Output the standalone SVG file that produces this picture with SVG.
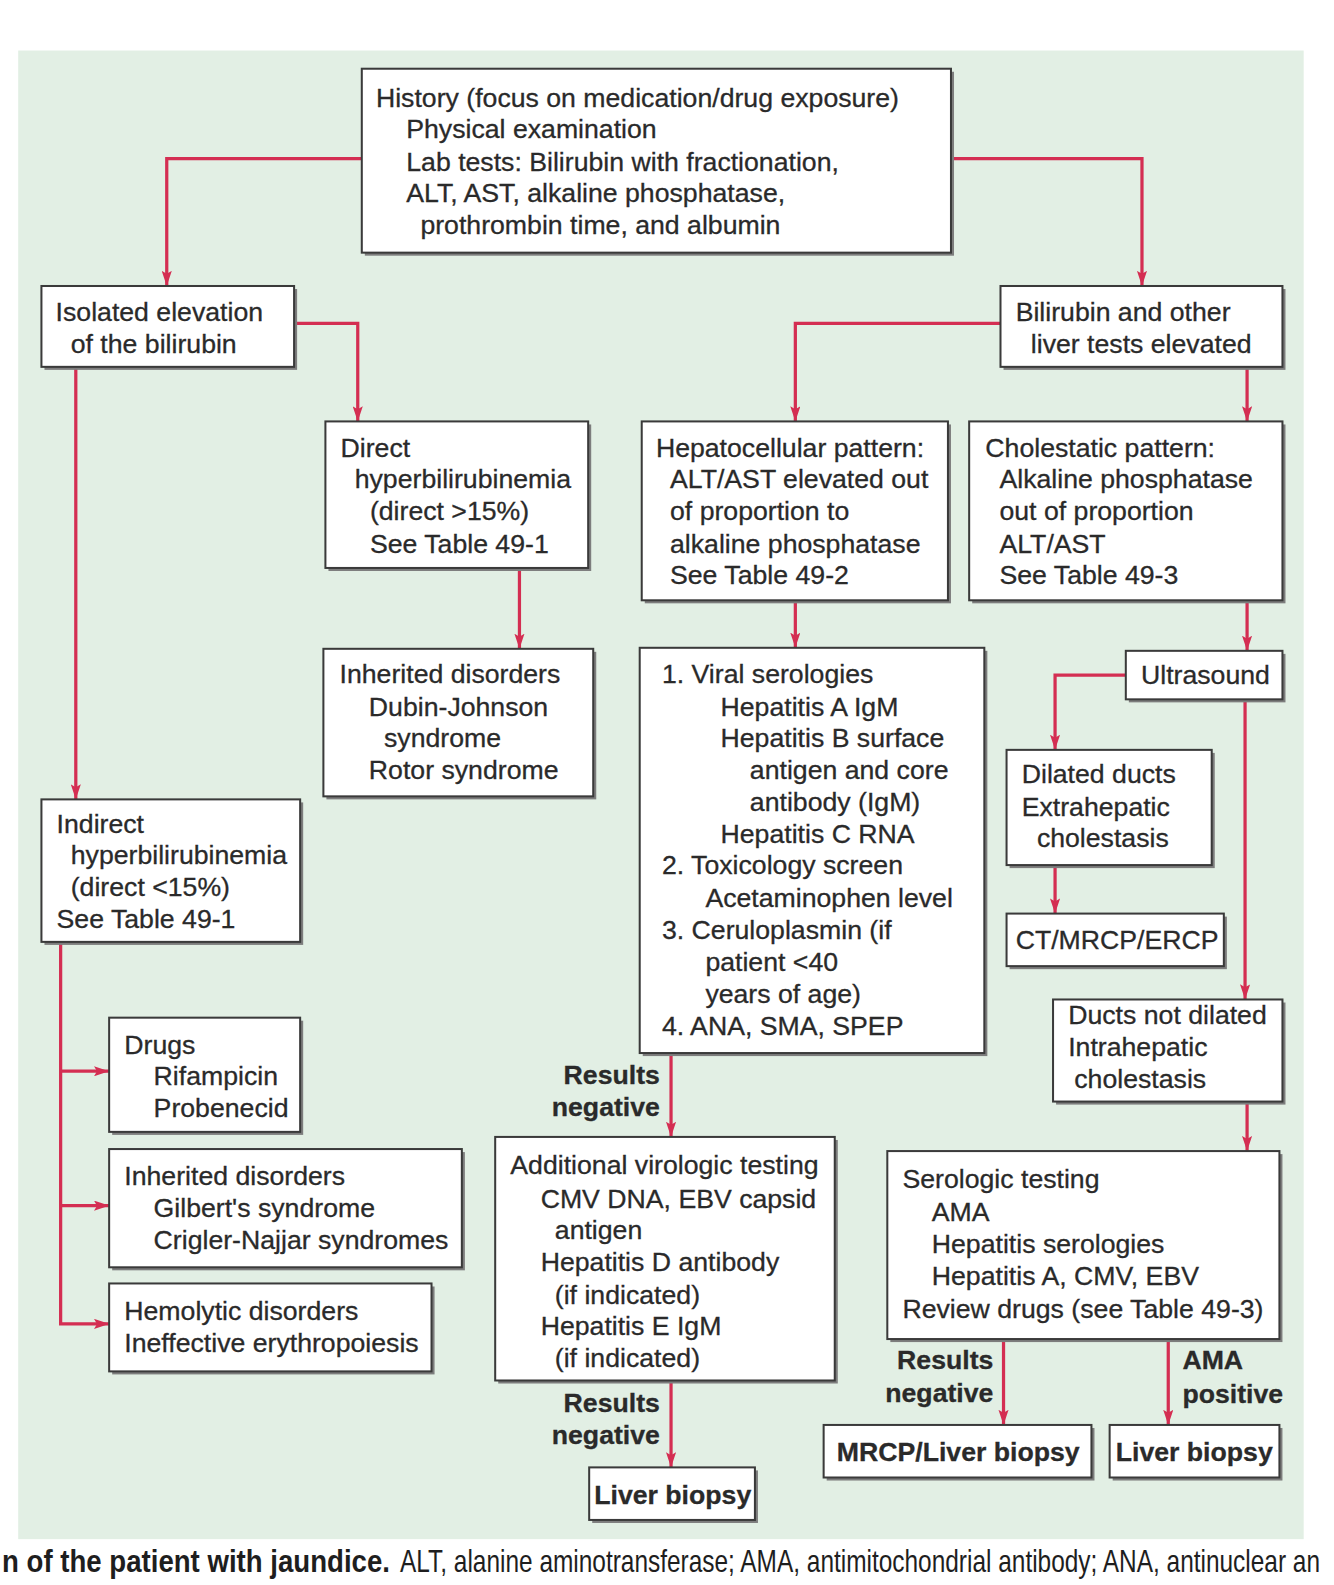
<svg xmlns="http://www.w3.org/2000/svg" width="1334" height="1585" viewBox="0 0 1334 1585">
<style>
.bg{fill:#e2efe4}
.sh{fill:#7d7d7d}
.box{fill:#ffffff;stroke:#3a3a3a;stroke-width:2}
text{font-family:"Liberation Sans",Arial,sans-serif;font-size:26.4px;fill:#2a2a2a;stroke:#2a2a2a;stroke-width:0.3}
.b{font-weight:bold}
.r{text-anchor:end}
.c{fill:none;stroke:#d42e52;stroke-width:3.2}
.cap{font-size:23.5px;fill:#1e1e1e;stroke:none}
</style>
<defs>
<marker id="ah" viewBox="0 0 15 10" refX="15" refY="5" markerWidth="15" markerHeight="10" markerUnits="userSpaceOnUse" orient="auto">
<path d="M0,0 L15,5 L0,10 L3,5 z" fill="#d42e52"/>
</marker>
</defs>
<rect width="1334" height="1585" fill="#ffffff"/>
<g transform="scale(1.0106)">
<rect class="bg" x="18" y="50" width="1272" height="1473"/>

<g id="connectors">
<polyline class="c" points="358,157 165,157 165,283" marker-end="url(#ah)"/>
<polyline class="c" points="941,157 1130,157 1130,283" marker-end="url(#ah)"/>
<polyline class="c" points="291,320 354,320 354,417" marker-end="url(#ah)"/>
<polyline class="c" points="75,363 75,791" marker-end="url(#ah)"/>
<polyline class="c" points="990,320 787,320 787,417" marker-end="url(#ah)"/>
<polyline class="c" points="1234,363 1234,417" marker-end="url(#ah)"/>
<polyline class="c" points="514,562 514,642" marker-end="url(#ah)"/>
<polyline class="c" points="787,594 787,641" marker-end="url(#ah)"/>
<polyline class="c" points="1234,594 1234,644" marker-end="url(#ah)"/>
<polyline class="c" points="1114,668 1044,668 1044,742" marker-end="url(#ah)"/>
<polyline class="c" points="1232,692 1232,989" marker-end="url(#ah)"/>
<polyline class="c" points="1044,856 1044,904" marker-end="url(#ah)"/>
<polyline class="c" points="664,1042 664,1125" marker-end="url(#ah)"/>
<polyline class="c" points="60,932 60,1310 108,1310" marker-end="url(#ah)"/>
<polyline class="c" points="60,1060 108,1060" marker-end="url(#ah)"/>
<polyline class="c" points="60,1193 108,1193" marker-end="url(#ah)"/>
<polyline class="c" points="664,1366 664,1452" marker-end="url(#ah)"/>
<polyline class="c" points="1234,1090 1234,1139" marker-end="url(#ah)"/>
<polyline class="c" points="993,1325 993,1410" marker-end="url(#ah)"/>
<polyline class="c" points="1156,1325 1156,1410" marker-end="url(#ah)"/>
</g>

<g id="history">
<rect class="sh" x="361" y="71" width="583" height="182"/>
<rect class="box" x="358" y="68" width="583" height="182"/>
<text x="372" y="106">History (focus on medication/drug exposure)</text>
<text x="402" y="137">Physical examination</text>
<text x="402" y="169">Lab tests: Bilirubin with fractionation,</text>
<text x="402" y="200">ALT, AST, alkaline phosphatase,</text>
<text x="416" y="232">prothrombin time, and albumin</text>
</g>

<g id="isolated">
<rect class="sh" x="44" y="286" width="250" height="80"/>
<rect class="box" x="41" y="283" width="250" height="80"/>
<text x="55" y="318">Isolated elevation</text>
<text x="70" y="349">of the bilirubin</text>
</g>

<g id="bili-other">
<rect class="sh" x="993" y="286" width="279" height="80"/>
<rect class="box" x="990" y="283" width="279" height="80"/>
<text x="1005" y="318">Bilirubin and other</text>
<text x="1020" y="349">liver tests elevated</text>
</g>

<g id="direct">
<rect class="sh" x="325" y="420" width="260" height="145"/>
<rect class="box" x="322" y="417" width="260" height="145"/>
<text x="337" y="452">Direct</text>
<text x="351" y="483">hyperbilirubinemia</text>
<text x="366" y="515">(direct &gt;15%)</text>
<text x="366" y="547">See Table 49-1</text>
</g>

<g id="hepatocellular">
<rect class="sh" x="638" y="420" width="303" height="177"/>
<rect class="box" x="635" y="417" width="303" height="177"/>
<text x="649" y="452">Hepatocellular pattern:</text>
<text x="663" y="483">ALT/AST elevated out</text>
<text x="663" y="515">of proportion to</text>
<text x="663" y="547">alkaline phosphatase</text>
<text x="663" y="578">See Table 49-2</text>
</g>

<g id="cholestatic">
<rect class="sh" x="962" y="420" width="310" height="177"/>
<rect class="box" x="959" y="417" width="310" height="177"/>
<text x="975" y="452">Cholestatic pattern:</text>
<text x="989" y="483">Alkaline phosphatase</text>
<text x="989" y="515">out of proportion</text>
<text x="989" y="547">ALT/AST</text>
<text x="989" y="578">See Table 49-3</text>
</g>

<g id="inherited-direct">
<rect class="sh" x="323" y="645" width="267" height="146"/>
<rect class="box" x="320" y="642" width="267" height="146"/>
<text x="336" y="676">Inherited disorders</text>
<text x="365" y="708">Dubin-Johnson</text>
<text x="380" y="739">syndrome</text>
<text x="365" y="771">Rotor syndrome</text>
</g>

<g id="viral">
<rect class="sh" x="636" y="644" width="341" height="401"/>
<rect class="box" x="633" y="641" width="341" height="401"/>
<text x="655" y="676">1. Viral serologies</text>
<text x="713" y="708">Hepatitis A IgM</text>
<text x="713" y="739">Hepatitis B surface</text>
<text x="742" y="771">antigen and core</text>
<text x="742" y="802">antibody (IgM)</text>
<text x="713" y="834">Hepatitis C RNA</text>
<text x="655" y="865">2. Toxicology screen</text>
<text x="698" y="897">Acetaminophen level</text>
<text x="655" y="929">3. Ceruloplasmin (if</text>
<text x="698" y="961">patient &lt;40</text>
<text x="698" y="992">years of age)</text>
<text x="655" y="1024">4. ANA, SMA, SPEP</text>
</g>

<g id="ultrasound">
<rect class="sh" x="1117" y="647" width="155" height="48"/>
<rect class="box" x="1114" y="644" width="155" height="48"/>
<text x="1129" y="677">Ultrasound</text>
</g>

<g id="dilated">
<rect class="sh" x="999" y="745" width="203" height="114"/>
<rect class="box" x="996" y="742" width="203" height="114"/>
<text x="1011" y="775">Dilated ducts</text>
<text x="1011" y="807">Extrahepatic</text>
<text x="1026" y="838">cholestasis</text>
</g>

<g id="ct">
<rect class="sh" x="999" y="907" width="215" height="52"/>
<rect class="box" x="996" y="904" width="215" height="52"/>
<text x="1005" y="939">CT/MRCP/ERCP</text>
</g>

<g id="not-dilated">
<rect class="sh" x="1045" y="992" width="227" height="101"/>
<rect class="box" x="1042" y="989" width="227" height="101"/>
<text x="1057" y="1013">Ducts not dilated</text>
<text x="1057" y="1045">Intrahepatic</text>
<text x="1063" y="1077">cholestasis</text>
</g>

<g id="indirect">
<rect class="sh" x="44" y="794" width="256" height="141"/>
<rect class="box" x="41" y="791" width="256" height="141"/>
<text x="56" y="824">Indirect</text>
<text x="70" y="855">hyperbilirubinemia</text>
<text x="70" y="887">(direct &lt;15%)</text>
<text x="56" y="918">See Table 49-1</text>
</g>

<g id="drugs">
<rect class="sh" x="111" y="1010" width="189" height="113"/>
<rect class="box" x="108" y="1007" width="189" height="113"/>
<text x="123" y="1043">Drugs</text>
<text x="152" y="1074">Rifampicin</text>
<text x="152" y="1105">Probenecid</text>
</g>

<g id="inherited-indirect">
<rect class="sh" x="111" y="1140" width="349" height="117"/>
<rect class="box" x="108" y="1137" width="349" height="117"/>
<text x="123" y="1173">Inherited disorders</text>
<text x="152" y="1204">Gilbert's syndrome</text>
<text x="152" y="1236">Crigler-Najjar syndromes</text>
</g>

<g id="hemolytic">
<rect class="sh" x="111" y="1273" width="319" height="87"/>
<rect class="box" x="108" y="1270" width="319" height="87"/>
<text x="123" y="1306">Hemolytic disorders</text>
<text x="123" y="1338">Ineffective erythropoiesis</text>
</g>

<g id="additional">
<rect class="sh" x="493" y="1128" width="336" height="241"/>
<rect class="box" x="490" y="1125" width="336" height="241"/>
<text x="505" y="1162">Additional virologic testing</text>
<text x="535" y="1195">CMV DNA, EBV capsid</text>
<text x="549" y="1226">antigen</text>
<text x="535" y="1258">Hepatitis D antibody</text>
<text x="549" y="1290">(if indicated)</text>
<text x="535" y="1321">Hepatitis E IgM</text>
<text x="549" y="1353">(if indicated)</text>
</g>

<g id="biopsy-center">
<rect class="sh" x="586" y="1455" width="164" height="52"/>
<rect class="box" x="583" y="1452" width="164" height="52"/>
<text class="b" x="588" y="1488">Liver biopsy</text>
</g>

<g id="serologic">
<rect class="sh" x="881" y="1142" width="388" height="186"/>
<rect class="box" x="878" y="1139" width="388" height="186"/>
<text x="893" y="1176">Serologic testing</text>
<text x="922" y="1208">AMA</text>
<text x="922" y="1240">Hepatitis serologies</text>
<text x="922" y="1272">Hepatitis A, CMV, EBV</text>
<text x="893" y="1304">Review drugs (see Table 49-3)</text>
</g>

<g id="mrcp">
<rect class="sh" x="818" y="1413" width="265" height="52"/>
<rect class="box" x="815" y="1410" width="265" height="52"/>
<text class="b" x="828" y="1446">MRCP/Liver biopsy</text>
</g>

<g id="biopsy-right">
<rect class="sh" x="1101" y="1413" width="168" height="52"/>
<rect class="box" x="1098" y="1410" width="168" height="52"/>
<text class="b" x="1104" y="1446">Liver biopsy</text>
</g>

<g id="labels">
<text class="b r" x="653" y="1073">Results</text>
<text class="b r" x="653" y="1104">negative</text>
<text class="b r" x="653" y="1397">Results</text>
<text class="b r" x="653" y="1429">negative</text>
<text class="b r" x="983" y="1355">Results</text>
<text class="b r" x="983" y="1387">negative</text>
<text class="b" x="1170" y="1355">AMA</text>
<text class="b" x="1170" y="1388">positive</text>
</g>
</g>

<g id="caption">
<text class="cap b" transform="translate(2,1572) scale(1,1.3)" x="0" y="0" textLength="388" lengthAdjust="spacingAndGlyphs">n of the patient with jaundice.</text>
<text class="cap" transform="translate(400,1572) scale(1,1.3)" x="0" y="0" textLength="920" lengthAdjust="spacingAndGlyphs">ALT, alanine aminotransferase; AMA, antimitochondrial antibody; ANA, antinuclear an</text>
</g>
</svg>
